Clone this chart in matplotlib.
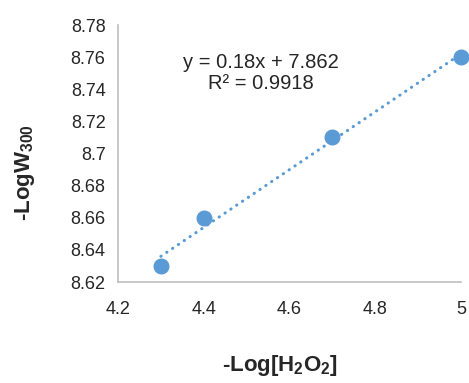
import matplotlib
matplotlib.use("Agg")
import matplotlib.pyplot as plt
import numpy as np

# data
log_h2o2 = [4.3, 4.4, 4.7, 5.0]
log_w300 = [8.63, 8.66, 8.71, 8.76]
slope = 0.18
intercept = 7.862
r_squared = 0.9918

x_ticks = [4.2, 4.4, 4.6, 4.8, 5.0]
x_tick_labels = ["4.2", "4.4", "4.6", "4.8", "5"]
y_ticks = [8.62, 8.64, 8.66, 8.68, 8.70, 8.72, 8.74, 8.76, 8.78]
y_tick_labels = ["8.62", "8.64", "8.66", "8.68", "8.7", "8.72", "8.74", "8.76", "8.78"]

blue = "#5B9BD5"
plt.rcParams["font.family"] = ["Liberation Sans", "DejaVu Sans"]
plt.rcParams["mathtext.fontset"] = "custom"
plt.rcParams["mathtext.rm"] = "Liberation Sans:bold"
plt.rcParams["mathtext.default"] = "rm"

fig = plt.figure(figsize=(4.69, 3.83), dpi=100)
ax = fig.add_axes([0.2516, 0.2637, 0.7314, 0.671])

# trendline
fit_x = np.array([log_h2o2[0], log_h2o2[-1]])
ax.plot(fit_x, slope * fit_x + intercept, color=blue, linewidth=2.2,
        linestyle=(0, (0.1, 2.2)), dash_capstyle="round", zorder=2)
ax.plot(log_h2o2, log_w300, "o", color=blue, markersize=10.5, zorder=3,
        clip_on=False)

ax.set_xlim(4.2, 5.0)
ax.set_ylim(8.62, 8.78)
ax.set_xticks(x_ticks)
ax.set_xticklabels(x_tick_labels)
ax.set_yticks(y_ticks)
ax.set_yticklabels(y_tick_labels)
ax.tick_params(length=0, labelsize=13, colors="#262626", pad=9)
ax.tick_params(axis="x", pad=14)

for side in ["top", "right"]:
    ax.spines[side].set_visible(False)
for side in ["left", "bottom"]:
    ax.spines[side].set_color("#BFBFBF")
    ax.spines[side].set_linewidth(1.2)

ax.text(4.533, 8.750, "y = 0.18x + 7.862\nR\u00b2 = 0.9918", ha="center",
        va="center", fontsize=14.5, color="#262626", linespacing=1.12)

fig.text(0.053, 0.548, "-LogW$_{300}$", rotation=90, ha="center", va="center",
         fontsize=16, fontweight="bold", color="#262626")
fig.text(0.597, 0.012, "-Log[H$_2$O$_2$]", ha="center", va="bottom",
         fontsize=16, fontweight="bold", color="#262626")

fig.savefig("out.png", dpi=100)
